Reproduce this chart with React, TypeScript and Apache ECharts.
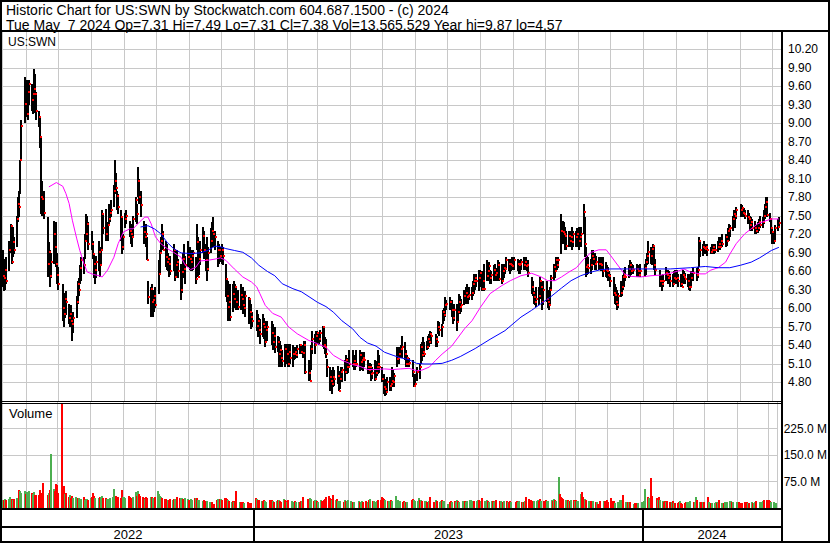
import React, { useEffect, useRef } from 'react';
import * as echarts from 'echarts';

// ---------- texts ----------
const HEADER_LINE_1 = 'Historic Chart for US:SWN by Stockwatch.com 604.687.1500 - (c) 2024';
const HEADER_LINE_2 = 'Tue May\u00a0\u00a07 2024 Op=7.31 Hi=7.49 Lo=7.31 Cl=7.38 Vol=13,565,529 Year hi=9.87 lo=4.57';
const SYMBOL_LABEL = 'US:SWN';
const VOLUME_LABEL = 'Volume';
const YEAR_LABELS = ['2022', '2023', '2024'];

// ---------- calendar ----------
const FIRST_DAY = '2022-05-10';
const LAST_DAY = '2024-05-07';
const AXIS_START = '2022-05-09';
const AXIS_END = '2024-05-09';
const HOLIDAYS = [
  '2022-05-30', '2022-06-20', '2022-07-04', '2022-09-05', '2022-11-24', '2022-12-26',
  '2023-01-02', '2023-01-16', '2023-02-20', '2023-04-07', '2023-05-29', '2023-06-19',
  '2023-07-04', '2023-09-04', '2023-11-23', '2023-12-25',
  '2024-01-01', '2024-01-15', '2024-02-19', '2024-03-29',
];

// ---------- price axis / volume axis ticks ----------
const PRICE_MIN = 4.5;
const PRICE_MAX = 10.48;
const PRICE_STEP = 0.3;
const PRICE_FIRST_LABEL = 4.8;
const VOLUME_MAX = 300; // millions
const VOLUME_STEP = 75;

// ---------- daily data (one value per trading day) ----------
const high = [
  // 2022 May
  6.94,6.80,6.75,6.83,7.10,7.37,7.30,7.32,7.16,7.50,7.80,7.91,8.40,9.05,9.75,
  // Jun
  9.70,9.55,9.70,9.64,9.60,9.88,9.80,9.50,9.20,9.10,8.78,8.07,7.90,7.48,7.07,6.94,6.90,7.42,7.30,7.40,6.90,
  // Jul
  6.67,6.40,6.18,6.25,6.29,6.07,6.00,6.05,5.80,5.95,6.20,6.45,6.50,6.70,6.83,6.83,7.20,7.53,7.50,7.40,
  // Aug
  7.26,7.10,6.89,6.80,6.85,7.10,7.00,7.00,7.59,7.55,7.61,7.40,7.70,7.60,7.75,8.00,8.40,8.20,7.91,7.85,7.59,7.50,7.20,
  // Sep
  7.55,7.59,7.42,7.30,7.37,7.50,7.80,7.70,8.29,8.10,7.91,7.42,7.35,7.37,7.16,6.45,6.34,6.40,6.29,6.30,6.35,
  // Oct
  6.78,6.95,7.16,7.37,7.25,7.10,7.05,6.90,6.83,6.85,7.05,6.95,6.80,6.94,6.80,6.72,6.65,6.90,7.05,6.85,7.10,
  // Nov
  6.99,6.95,6.90,6.95,6.83,7.37,7.16,6.90,7.10,7.32,7.25,7.05,7.16,7.00,7.30,7.40,7.48,7.26,7.10,7.05,7.00,
  // Dec
  7.05,7.00,6.72,6.50,6.45,6.20,6.40,6.40,6.45,6.40,6.35,6.30,6.40,6.30,6.35,6.20,6.29,6.18,6.15,6.07,5.95,
  // 2023 Jan
  5.97,5.91,5.85,5.83,5.91,5.85,5.80,5.75,5.80,5.80,5.75,5.65,5.70,5.55,5.53,5.48,5.40,5.32,5.42,5.42,
  // Feb
  5.42,5.35,5.42,5.40,5.37,5.35,5.37,5.40,5.42,5.42,5.40,5.48,5.48,5.16,5.10,5.40,5.64,5.59,5.64,
  // Mar
  5.64,5.60,5.65,5.72,5.70,5.53,5.50,5.18,5.05,5.00,4.94,5.05,5.00,5.07,4.99,4.95,5.05,5.05,5.16,5.24,5.20,5.13,5.32,
  // Apr
  5.32,5.25,5.20,5.32,5.32,5.30,5.29,5.25,5.29,5.16,5.10,5.12,5.10,5.05,5.16,5.10,5.15,5.32,5.25,
  // May
  5.05,4.94,4.85,4.80,4.89,4.89,4.85,5.05,5.00,4.95,5.37,5.30,5.37,5.40,5.56,5.45,5.32,5.25,5.21,5.20,5.16,4.94,
  // Jun
  4.94,5.05,5.10,5.42,5.45,5.53,5.45,5.48,5.55,5.59,5.64,5.62,5.59,5.55,5.80,5.78,5.75,5.97,6.00,6.18,6.13,
  // Jul
  6.18,6.13,6.00,6.07,6.07,6.00,6.24,6.20,6.15,6.30,6.35,6.40,6.30,6.35,6.35,6.45,6.56,6.55,6.56,6.62,
  // Aug
  6.62,6.60,6.55,6.72,6.78,6.70,6.75,6.62,6.60,6.70,6.72,6.65,6.78,6.75,6.72,6.65,6.72,6.67,6.83,6.80,6.78,6.80,6.83,
  // Sep
  6.83,6.80,6.78,6.75,6.80,6.83,6.80,6.83,6.78,6.78,6.51,6.45,6.29,6.25,6.35,6.35,6.51,6.45,6.40,6.45,
  // Oct
  6.45,6.30,6.20,6.35,6.55,6.72,6.70,6.83,6.80,6.83,7.53,7.42,7.40,7.32,7.25,7.26,7.20,7.26,7.32,7.25,7.26,7.30,
  // Nov
  7.32,7.30,7.32,7.70,7.48,6.99,6.85,6.83,6.80,6.94,6.94,6.90,6.85,6.83,6.80,6.83,6.83,6.75,6.70,6.67,6.60,
  // Dec
  6.56,6.51,6.40,6.35,6.30,6.25,6.45,6.40,6.55,6.62,6.67,6.70,6.78,6.75,6.72,6.70,6.72,6.70,6.65,6.72,
  // 2024 Jan
  6.72,6.80,6.90,7.10,7.00,6.99,7.05,6.99,6.80,6.62,6.55,6.51,6.56,6.67,6.62,6.62,6.60,6.56,6.56,6.60,6.62,
  // Feb
  6.62,6.56,6.56,6.55,6.62,6.60,6.58,6.56,6.55,6.56,6.60,6.67,6.65,6.67,7.16,7.10,7.05,7.10,7.05,7.05,
  // Mar
  7.05,7.00,7.05,7.05,7.02,7.05,7.10,7.16,7.12,7.15,7.21,7.20,7.21,7.30,7.37,7.35,7.50,7.59,7.55,7.65,
  // Apr
  7.70,7.68,7.64,7.62,7.60,7.59,7.55,7.50,7.48,7.45,7.42,7.35,7.40,7.45,7.50,7.48,7.59,7.70,7.80,7.80,7.55,7.45,
  // May
  7.32,7.26,7.35,7.45,7.49,
];

const low = [
  6.35,6.29,6.30,6.40,6.60,6.90,6.72,6.83,6.89,7.00,7.40,7.48,7.86,8.40,9.00,
  9.10,9.05,9.30,9.20,9.15,9.30,9.16,9.05,8.94,8.60,7.53,7.50,7.45,6.51,6.51,6.35,6.50,6.72,6.90,6.67,6.40,
  6.30,5.80,5.70,5.85,5.90,5.75,5.70,5.72,5.48,5.60,5.85,6.07,6.20,6.40,6.45,6.56,6.80,7.16,7.10,6.95,
  6.94,6.80,6.50,6.40,6.50,6.60,6.51,6.70,6.94,7.20,7.10,7.10,7.37,7.40,7.48,7.64,7.90,7.85,7.60,7.53,7.10,6.89,6.95,
  7.30,7.37,7.16,7.05,6.99,7.15,7.40,7.37,7.80,7.70,7.48,7.05,7.05,6.99,6.78,6.07,5.86,6.00,5.86,5.95,6.00,
  6.24,6.55,6.89,7.00,6.94,6.67,6.62,6.60,6.51,6.55,6.60,6.45,6.50,6.56,6.50,6.13,6.25,6.50,6.60,6.40,6.67,
  6.62,6.60,6.60,6.62,6.40,6.94,6.51,6.55,6.70,6.90,6.80,6.60,6.45,6.60,6.90,7.00,6.99,6.94,6.67,6.72,6.75,
  6.72,6.70,6.18,6.10,5.80,5.85,5.80,5.95,6.00,6.05,5.97,5.97,5.97,6.00,5.91,5.91,5.86,5.75,5.80,5.67,5.70,
  5.64,5.53,5.55,5.43,5.53,5.50,5.37,5.45,5.48,5.40,5.32,5.35,5.27,5.30,5.05,5.10,5.05,5.05,5.05,5.10,
  5.05,5.05,5.10,5.05,5.16,5.18,5.20,5.20,5.26,5.26,5.20,5.20,4.94,4.83,4.82,5.00,5.26,5.26,5.43,
  5.43,5.40,5.45,5.37,5.35,5.26,5.20,4.89,4.67,4.70,4.62,4.72,4.75,4.78,4.67,4.70,4.83,4.80,4.83,4.94,4.94,4.95,5.05,
  5.05,5.00,5.00,5.05,4.99,5.05,5.00,4.99,5.05,4.94,4.94,4.95,4.83,4.85,4.83,4.85,4.90,4.94,4.95,
  4.80,4.62,4.58,4.60,4.67,4.67,4.67,4.72,4.75,4.72,5.05,5.10,5.10,5.20,5.20,5.16,5.05,5.05,5.05,5.05,4.89,4.72,
  4.72,4.83,4.85,5.10,5.15,5.21,5.21,5.32,5.35,5.37,5.43,5.43,5.37,5.37,5.59,5.55,5.53,5.75,5.80,5.86,5.97,
  5.97,5.86,5.75,5.80,5.64,5.80,5.95,5.91,5.95,6.05,6.07,6.10,6.07,6.13,6.13,6.20,6.24,6.30,6.35,6.29,
  6.35,6.29,6.30,6.29,6.45,6.45,6.50,6.40,6.40,6.45,6.45,6.45,6.45,6.45,6.40,6.45,6.50,6.56,6.62,6.60,6.56,6.60,6.62,
  6.62,6.60,6.56,6.56,6.62,6.62,6.65,6.62,6.60,6.51,6.24,6.20,6.07,6.05,6.02,6.05,6.18,6.15,5.97,6.05,
  6.10,6.00,5.97,6.05,6.30,6.45,6.50,6.62,6.62,6.65,6.89,7.05,7.10,6.94,6.94,6.99,7.00,7.05,6.94,7.00,7.00,7.00,
  6.94,7.00,7.00,7.20,6.83,6.51,6.55,6.56,6.56,6.62,6.70,6.62,6.62,6.62,6.65,6.60,6.51,6.51,6.50,6.45,6.45,
  6.35,6.20,6.07,6.05,5.97,6.00,6.18,6.20,6.30,6.35,6.45,6.50,6.51,6.55,6.56,6.56,6.51,6.51,6.51,6.51,
  6.51,6.55,6.70,6.72,6.72,6.70,6.78,6.62,6.55,6.35,6.35,6.29,6.35,6.45,6.45,6.40,6.40,6.35,6.35,6.40,6.40,
  6.40,6.35,6.35,6.35,6.40,6.40,6.40,6.35,6.30,6.29,6.35,6.45,6.45,6.50,6.67,6.83,6.85,6.90,6.89,6.89,
  6.85,6.89,6.89,6.90,6.89,6.90,6.91,6.95,6.95,6.99,6.99,7.00,7.02,7.10,7.10,7.15,7.26,7.35,7.30,7.45,
  7.48,7.50,7.48,7.48,7.45,7.37,7.40,7.26,7.30,7.26,7.21,7.21,7.22,7.25,7.30,7.30,7.37,7.45,7.64,7.48,7.40,7.20,
  7.05,7.05,7.10,7.25,7.31,
];

const close = [
  6.53,6.50,6.62,6.45,6.95,7.34,6.75,7.07,6.94,7.45,7.70,7.65,8.40,8.95,9.32,
  9.15,9.50,9.64,9.37,9.48,9.55,9.48,9.20,9.10,8.78,7.80,7.78,7.55,6.72,6.91,6.53,6.75,7.21,7.00,6.72,6.55,
  6.40,6.00,5.91,6.15,6.10,5.85,5.91,5.80,5.75,5.85,6.10,6.40,6.30,6.65,6.78,6.70,7.10,7.21,7.37,7.05,
  7.05,6.89,6.72,6.62,6.75,6.91,6.70,6.94,7.53,7.30,7.20,7.35,7.45,7.55,7.60,7.90,8.07,7.95,7.83,7.64,7.48,7.00,7.15,
  7.45,7.50,7.25,7.20,7.16,7.45,7.75,7.53,8.07,7.80,7.67,7.24,7.15,7.21,6.78,6.18,6.32,6.10,6.13,6.20,6.05,
  6.56,6.90,7.10,7.20,6.94,6.83,6.75,6.80,6.72,6.60,6.95,6.51,6.70,6.75,6.60,6.30,6.59,6.80,6.64,6.70,6.83,
  6.80,6.75,6.85,6.90,6.48,7.07,6.51,6.80,6.94,7.18,6.94,6.78,6.64,6.90,7.10,7.25,7.21,7.16,6.94,6.94,6.85,
  6.94,6.85,6.48,6.20,6.02,6.10,5.86,6.24,6.16,6.35,6.10,6.02,6.21,6.15,6.05,6.00,6.20,6.16,5.95,5.86,5.80,
  5.72,5.80,5.65,5.59,5.75,5.70,5.45,5.65,5.70,5.60,5.45,5.55,5.37,5.45,5.26,5.32,5.20,5.15,5.35,5.26,
  5.10,5.30,5.20,5.26,5.26,5.30,5.25,5.35,5.40,5.30,5.28,5.40,4.97,4.95,4.83,5.35,5.51,5.40,5.55,
  5.60,5.50,5.60,5.70,5.40,5.37,5.26,5.05,4.89,4.83,4.78,4.89,4.85,4.91,4.67,4.85,4.97,5.00,4.97,5.16,5.05,5.05,5.10,
  5.10,5.15,5.10,5.10,5.24,5.13,5.16,5.20,5.16,5.05,5.00,5.05,4.94,4.95,4.86,4.95,5.05,5.10,5.05,
  4.85,4.72,4.70,4.65,4.80,4.75,4.78,4.83,4.80,4.90,5.18,5.20,5.26,5.35,5.37,5.26,5.10,5.20,5.10,5.12,4.97,4.75,
  4.78,4.97,5.05,5.37,5.25,5.30,5.26,5.37,5.50,5.45,5.59,5.55,5.50,5.45,5.70,5.65,5.70,5.94,5.90,6.05,6.08,
  6.10,5.97,5.85,5.97,5.78,5.95,6.10,6.02,6.05,6.20,6.25,6.18,6.20,6.22,6.25,6.40,6.45,6.50,6.45,6.50,
  6.58,6.32,6.45,6.32,6.53,6.60,6.68,6.50,6.55,6.62,6.55,6.58,6.70,6.48,6.45,6.60,6.65,6.64,6.78,6.72,6.72,6.70,6.68,
  6.78,6.72,6.70,6.72,6.75,6.70,6.76,6.68,6.70,6.58,6.35,6.25,6.18,6.10,6.15,6.20,6.45,6.35,6.10,6.30,
  6.15,6.10,6.05,6.30,6.50,6.67,6.60,6.78,6.70,6.78,7.26,7.24,7.20,7.18,7.02,7.18,7.10,7.15,7.07,7.20,7.15,7.20,
  7.10,7.15,7.20,7.56,7.05,6.67,6.70,6.65,6.70,6.85,6.80,6.72,6.75,6.72,6.72,6.70,6.60,6.62,6.60,6.55,6.52,
  6.45,6.25,6.21,6.10,6.05,6.20,6.25,6.35,6.51,6.55,6.51,6.64,6.70,6.60,6.64,6.62,6.64,6.60,6.55,6.60,
  6.65,6.75,6.85,6.91,6.85,6.96,7.02,6.70,6.62,6.45,6.45,6.40,6.45,6.58,6.55,6.50,6.52,6.45,6.40,6.50,6.48,
  6.50,6.45,6.40,6.35,6.55,6.51,6.48,6.45,6.35,6.35,6.50,6.58,6.55,6.62,7.10,6.95,7.00,6.98,6.96,7.00,
  6.95,6.92,6.95,7.00,6.94,6.95,7.00,7.05,7.00,7.10,7.05,7.15,7.10,7.25,7.29,7.30,7.45,7.53,7.50,7.59,
  7.59,7.62,7.55,7.53,7.50,7.48,7.45,7.35,7.40,7.30,7.30,7.26,7.30,7.40,7.35,7.40,7.50,7.65,7.72,7.51,7.45,7.30,
  7.24,7.10,7.30,7.32,7.38,
];

// volume in millions of shares
const volume = [
  24,22,26,23,25,30,26,24,25,27,28,50,48,43,48,
  40,45,48,42,40,44,38,37,36,50,42,30,72,37,42,50,154,54,48,68,66,
  42,293,62,40,43,30,36,28,34,27,30,25,28,29,26,32,22,25,26,24,
  28,30,43,35,27,29,32,30,35,28,27,25,24,26,27,30,54,35,30,32,28,50,30,
  30,28,34,30,29,31,44,33,48,40,35,30,27,25,30,28,30,32,29,28,30,
  48,40,35,30,28,25,26,24,22,25,24,26,25,24,30,29,27,28,26,27,25,
  24,23,25,24,28,29,27,24,22,21,23,20,18,19,18,17,16,12,22,26,25,
  25,22,28,27,26,22,20,18,19,18,20,48,18,17,15,16,14,16,15,12,13,
  28,25,22,24,20,19,22,20,17,24,22,20,18,19,22,24,20,18,26,22,
  20,18,22,19,17,18,20,16,18,17,19,21,30,26,22,28,25,20,22,
  24,20,18,22,20,23,25,30,34,28,26,24,38,22,25,21,20,19,18,22,20,19,24,
  20,18,17,16,19,18,17,20,18,19,17,16,22,25,20,19,18,21,24,
  22,30,28,26,24,20,19,21,22,20,35,24,22,20,21,18,19,17,18,16,24,26,
  22,20,19,28,24,22,20,19,21,18,20,30,18,17,22,19,18,21,22,20,19,
  12,18,20,17,19,18,22,20,18,19,21,20,18,19,22,24,20,21,19,20,
  22,24,20,28,19,20,22,21,18,19,20,18,21,22,19,20,18,17,21,19,18,17,20,
  18,17,19,18,20,17,16,18,19,30,25,22,24,21,20,19,22,20,26,21,
  20,19,22,20,21,24,20,26,22,21,89,40,30,28,26,24,22,21,20,23,22,21,
  22,20,21,40,45,30,25,22,20,19,21,18,19,17,16,12,20,19,21,20,22,
  17,27,20,20,21,15,18,23,22,24,37,17,18,17,16,17,12,15,14,13,
  17,18,20,53,31,27,20,85,34,27,23,31,23,20,18,19,17,20,18,17,19,
  15,15,15,17,20,14,12,15,17,16,18,20,17,18,31,22,17,16,15,18,
  16,31,18,15,14,15,13,16,14,17,22,15,14,16,18,17,20,19,16,17,
  18,17,16,15,14,16,15,17,14,13,16,15,14,17,19,16,15,18,20,22,24,19,
  23,20,18,16,13.57,
];

// moving averages (magenta = short, blue = long)
const maShortDates = [
  '2022-06-22','2022-06-24','2022-06-29','2022-07-05','2022-07-08','2022-07-11','2022-07-14','2022-07-18','2022-07-21','2022-07-25',
  '2022-07-28','2022-08-03','2022-08-08','2022-08-11','2022-08-16','2022-08-22','2022-08-26','2022-08-31','2022-09-06','2022-09-09',
  '2022-09-15','2022-09-20','2022-09-23','2022-09-26','2022-09-30','2022-10-05','2022-10-11','2022-10-17','2022-10-24','2022-10-28',
  '2022-11-02','2022-11-07','2022-11-11','2022-11-18','2022-11-25','2022-11-30','2022-12-05','2022-12-13','2022-12-21','2022-12-29',
  '2023-01-03','2023-01-06','2023-01-11','2023-01-18','2023-01-26','2023-02-02','2023-02-10','2023-02-21','2023-03-01','2023-03-09',
  '2023-03-16','2023-03-24','2023-04-03','2023-04-10','2023-04-17','2023-04-25','2023-05-03','2023-05-11','2023-05-18','2023-05-26',
  '2023-06-02','2023-06-07','2023-06-14','2023-06-20','2023-06-26','2023-07-05','2023-07-17','2023-07-24','2023-08-01','2023-08-10',
  '2023-08-21','2023-08-29','2023-09-08','2023-09-18','2023-09-27','2023-10-03','2023-10-10','2023-10-16','2023-10-23','2023-10-30',
  '2023-11-06','2023-11-13','2023-11-20','2023-11-27','2023-12-01','2023-12-07','2023-12-14','2023-12-20','2023-12-29','2024-01-08',
  '2024-01-17','2024-01-26','2024-02-05','2024-02-08','2024-02-14','2024-02-23','2024-02-28','2024-03-04','2024-03-11','2024-03-18',
  '2024-03-22','2024-03-28','2024-04-05','2024-04-11','2024-04-17','2024-04-23','2024-04-30','2024-05-07',
];
const maShortValues = [
  7.97,7.99,8.04,7.98,7.86,7.70,7.43,7.14,6.94,6.72,
  6.59,6.55,6.53,6.51,6.62,6.83,7.05,7.24,7.29,7.29,
  7.40,7.48,7.48,7.37,7.16,7.05,6.97,6.91,6.83,6.70,
  6.63,6.67,6.77,6.78,6.80,6.82,6.78,6.64,6.51,6.43,
  6.35,6.24,6.05,5.92,5.86,5.70,5.59,5.48,5.43,5.37,
  5.24,5.16,5.09,5.06,5.01,5.01,5.02,5.01,5.02,5.03,
  4.99,5.00,5.05,5.16,5.26,5.39,5.67,5.80,6.02,6.24,
  6.37,6.45,6.53,6.57,6.51,6.45,6.45,6.51,6.59,6.66,
  6.80,6.91,6.95,6.95,6.86,6.72,6.56,6.52,6.51,6.53,
  6.54,6.57,6.62,6.64,6.59,6.56,6.56,6.62,6.66,6.75,
  6.88,7.05,7.21,7.29,7.37,7.41,7.45,7.45,
];
const maLongDates = [
  '2022-09-16','2022-09-23','2022-09-29','2022-10-05','2022-10-11','2022-10-17','2022-10-24','2022-11-02','2022-11-11','2022-11-18',
  '2022-11-25','2022-11-30','2022-12-05','2022-12-13','2022-12-21','2022-12-29','2023-01-05','2023-01-13','2023-01-20','2023-01-27',
  '2023-02-06','2023-02-14','2023-02-22','2023-03-01','2023-03-09','2023-03-16','2023-03-24','2023-04-03','2023-04-10','2023-04-17',
  '2023-04-25','2023-05-03','2023-05-11','2023-05-18','2023-05-26','2023-06-02','2023-06-09','2023-06-16','2023-06-26','2023-07-05',
  '2023-07-13','2023-07-27','2023-08-10','2023-08-24','2023-09-08','2023-09-18','2023-09-27','2023-10-06','2023-10-16','2023-10-25',
  '2023-11-03','2023-11-13','2023-11-22','2023-12-01','2023-12-20','2024-01-08','2024-01-26','2024-02-14','2024-02-28','2024-03-11',
  '2024-03-22','2024-04-01','2024-04-11','2024-04-19','2024-04-30','2024-05-07',
];
const maLongValues = [
  7.32,7.34,7.29,7.21,7.07,6.97,6.90,6.89,6.90,6.94,
  7.01,7.00,6.97,6.94,6.91,6.82,6.70,6.60,6.53,6.40,
  6.32,6.27,6.18,6.10,6.03,5.94,5.80,5.67,5.53,5.44,
  5.39,5.29,5.24,5.20,5.17,5.11,5.10,5.10,5.11,5.16,
  5.22,5.35,5.50,5.64,5.86,5.97,6.08,6.19,6.33,6.45,
  6.53,6.59,6.63,6.64,6.64,6.64,6.64,6.66,6.68,6.66,
  6.66,6.70,6.75,6.82,6.94,6.99,
];

// ---------- styling ----------
const FONT = '"Liberation Sans", Arial, Helvetica, sans-serif';
const GRID_COLOR = '#c8c8c8';
const UP_COLOR = '#4caf50';
const DOWN_COLOR = '#ff0000';
const BAR_COLOR = '#000000';
const CLOSE_COLOR = '#ff0000';
const MA_SHORT_COLOR = '#ff00ff';
const MA_LONG_COLOR = '#0000ff';
const DAY = 24 * 3600 * 1000;

function parseDay(s: string): number {
  const [y, m, d] = s.split('-').map(Number);
  return new Date(y, m - 1, d, 12).getTime();
}
function fmtDay(d: Date): string {
  const p = (n: number) => (n < 10 ? '0' + n : '' + n);
  return d.getFullYear() + '-' + p(d.getMonth() + 1) + '-' + p(d.getDate());
}
function tradingDays(): number[] {
  const hol = new Set(HOLIDAYS);
  const out: number[] = [];
  const end = parseDay(LAST_DAY);
  let d = new Date(parseDay(FIRST_DAY));
  while (d.getTime() <= end) {
    const dow = d.getDay();
    if (dow !== 0 && dow !== 6 && !hol.has(fmtDay(d))) out.push(d.getTime());
    d = new Date(d.getFullYear(), d.getMonth(), d.getDate() + 1, 12);
  }
  return out;
}

function buildOption() {
  const days = tradingDays();
  const n = Math.min(days.length, high.length, low.length, close.length, volume.length);
  const ohlc: number[][] = [];
  const vols: number[][] = [];
  for (let i = 0; i < n; i++) {
    ohlc.push([days[i], high[i], low[i], close[i]]);
    const up = i === 0 ? 1 : close[i] >= close[i - 1] ? 1 : 0;
    vols.push([days[i], volume[i], up]);
  }
  const maShort = maShortDates.map((d, i) => [parseDay(d), maShortValues[i]]);
  const maLong = maLongDates.map((d, i) => [parseDay(d), maLongValues[i]]);
  const years = YEAR_LABELS.map((y) => [new Date(+y, 0, 1).getTime(), new Date(+y + 1, 0, 1).getTime()]);

  const axisMin = parseDay(AXIS_START);
  const axisMax = parseDay(AXIS_END);

  const timeAxis = (gridIndex: number, split: boolean) => ({
    type: 'time',
    gridIndex,
    min: axisMin,
    max: axisMax,
    splitNumber: 24,
    minInterval: 28 * DAY,
    maxInterval: 31 * DAY,
    axisLine: { show: false },
    axisTick: { show: false },
    axisLabel: { show: false },
    splitLine: { show: split, lineStyle: { color: GRID_COLOR, width: 1 } },
  });

  const isStep = (v: number, base: number, step: number) =>
    Math.abs((v - base) / step - Math.round((v - base) / step)) < 1e-6;

  const PLOT_LEFT = 2;
  const PLOT_WIDTH = 779;
  const text = (t: string, x: number, y: number, size: number) => ({
    type: 'text',
    x,
    y,
    z: 110,
    style: { text: t, fill: '#000', font: `${size}px ${FONT}`, verticalAlign: 'middle', textVerticalAlign: 'middle', align: 'left' },
  });
  const block = (x: number, y: number, w: number, h: number) => ({
    type: 'rect',
    z: 100,
    shape: { x, y, width: w, height: h },
    style: { fill: '#000' },
  });

  return {
    animation: false,
    backgroundColor: '#fff',
    grid: [
      { left: PLOT_LEFT, top: 32, width: PLOT_WIDTH, height: 369 },
      { left: PLOT_LEFT, top: 402, width: PLOT_WIDTH, height: 106 },
      { left: PLOT_LEFT, top: 510, width: PLOT_WIDTH, height: 31 },
    ],
    xAxis: [timeAxis(0, true), timeAxis(1, true), timeAxis(2, false)],
    yAxis: [
      {
        type: 'value',
        gridIndex: 0,
        position: 'right',
        min: PRICE_MIN,
        max: PRICE_MAX,
        interval: PRICE_STEP,
        axisLine: { show: false },
        axisTick: { show: false },
        axisLabel: {
          margin: 7,
          color: '#000',
          fontSize: 12,
          fontFamily: FONT,
          showMinLabel: false,
          showMaxLabel: false,
          formatter: (v: number) =>
            v >= PRICE_FIRST_LABEL - 1e-6 && isStep(v, PRICE_MIN, PRICE_STEP) ? v.toFixed(2) : '',
        },
        splitLine: { show: true, showMinLine: false, showMaxLine: false, lineStyle: { color: GRID_COLOR, width: 1 } },
      },
      {
        type: 'value',
        gridIndex: 1,
        position: 'right',
        min: 0,
        max: VOLUME_MAX,
        interval: VOLUME_STEP,
        axisLine: { show: false },
        axisTick: { show: false },
        axisLabel: {
          margin: 6,
          color: '#000',
          fontSize: 12,
          fontFamily: FONT,
          showMinLabel: false,
          showMaxLabel: false,
          formatter: (v: number) => (v > 0 && v < VOLUME_MAX ? v.toFixed(1) + ' M' : ''),
        },
        splitLine: { show: true, showMinLine: false, showMaxLine: false, lineStyle: { color: GRID_COLOR, width: 1 } },
      },
      { type: 'value', gridIndex: 2, min: 0, max: 1, show: false },
    ],
    series: [
      {
        type: 'custom',
        name: 'range',
        xAxisIndex: 0,
        yAxisIndex: 0,
        clip: true,
        silent: true,
        z: 2,
        encode: { x: 0, y: [1, 2] },
        data: ohlc,
        renderItem: (_p: any, api: any) => {
          const t = api.value(0);
          const hi = api.coord([t, api.value(1)]);
          const lo = api.coord([t, api.value(2)]);
          const x = Math.round(hi[0]);
          const y0 = Math.round(hi[1]);
          const y1 = Math.round(lo[1]);
          return {
            type: 'rect',
            shape: { x: x - 1, y: y0, width: 2, height: Math.max(1, y1 - y0) },
            style: { fill: BAR_COLOR },
          };
        },
      },
      {
        type: 'custom',
        name: 'close',
        xAxisIndex: 0,
        yAxisIndex: 0,
        clip: true,
        silent: true,
        z: 3,
        encode: { x: 0, y: 3 },
        data: ohlc,
        renderItem: (_p: any, api: any) => {
          const t = api.value(0);
          const c = api.coord([t, api.value(3)]);
          const x = Math.round(c[0]);
          return {
            type: 'rect',
            shape: { x: x, y: Math.round(c[1]) - 1, width: 2, height: 2 },
            style: { fill: CLOSE_COLOR },
          };
        },
      },
      {
        type: 'line',
        name: 'MA short',
        xAxisIndex: 0,
        yAxisIndex: 0,
        data: maShort,
        symbol: 'none',
        showSymbol: false,
        silent: true,
        z: 4,
        lineStyle: { color: MA_SHORT_COLOR, width: 1 },
      },
      {
        type: 'line',
        name: 'MA long',
        xAxisIndex: 0,
        yAxisIndex: 0,
        data: maLong,
        symbol: 'none',
        showSymbol: false,
        silent: true,
        z: 4,
        lineStyle: { color: MA_LONG_COLOR, width: 1 },
      },
      {
        type: 'custom',
        name: 'volume',
        xAxisIndex: 1,
        yAxisIndex: 1,
        clip: true,
        silent: true,
        encode: { x: 0, y: 1 },
        data: vols,
        renderItem: (_p: any, api: any) => {
          const t = api.value(0);
          const p = api.coord([t, api.value(1)]);
          const b = api.coord([t, 0]);
          const x = Math.round(p[0]);
          const top = Math.round(p[1]);
          return {
            type: 'rect',
            shape: { x: x - 1, y: top, width: 2, height: Math.max(1, Math.round(b[1]) - top) },
            style: { fill: api.value(2) ? UP_COLOR : DOWN_COLOR },
          };
        },
      },
      {
        type: 'custom',
        name: 'years',
        xAxisIndex: 2,
        yAxisIndex: 2,
        clip: false,
        silent: true,
        encode: { x: [0, 1] },
        data: years,
        renderItem: (params: any, api: any) => {
          const cs = params.coordSys;
          const s = api.coord([api.value(0), 0])[0];
          const e = api.coord([api.value(1), 0])[0];
          const x0 = Math.max(s, cs.x);
          const x1 = Math.min(e, cs.x + cs.width);
          const children: any[] = [
            {
              type: 'text',
              x: (x0 + x1) / 2,
              y: cs.y + cs.height - 7,
              style: {
                text: YEAR_LABELS[params.dataIndex],
                fill: '#000',
                font: `13px ${FONT}`,
                align: 'center',
                verticalAlign: 'middle',
                textAlign: 'center',
                textVerticalAlign: 'middle',
              },
            },
          ];
          if (s > cs.x + 1 && s < cs.x + cs.width - 1) {
            children.push({
              type: 'rect',
              shape: { x: Math.round(s) - 1, y: cs.y, width: 2, height: cs.height },
              style: { fill: '#000' },
            });
          }
          return { type: 'group', children };
        },
      },
    ],
    graphic: [
      {
        type: 'rect',
        z: 100,
        shape: { x: 1, y: 1, width: 828, height: 541 },
        style: { fill: 'none', stroke: '#000', lineWidth: 2 },
      },
      block(0, 30, 830, 2),
      block(781, 30, 2, 513),
      block(0, 401, 781, 1),
      block(0, 403, 781, 1),
      block(0, 508, 781, 2),
      block(0, 526, 781, 2),
      text(HEADER_LINE_1, 6, 9.8, 14),
      text(HEADER_LINE_2, 6, 24.5, 14),
      text(SYMBOL_LABEL, 8, 41.5, 12),
      text(VOLUME_LABEL, 9, 413.5, 13),
    ],
  };
}

export default function App() {
  const ref = useRef<HTMLDivElement>(null);
  useEffect(() => {
    document.body.style.margin = '0';
    const chart = echarts.init(ref.current as HTMLDivElement, null, { renderer: 'svg' });
    chart.setOption(buildOption() as any);
    return () => chart.dispose();
  }, []);
  return <div ref={ref} style={{ width: 830, height: 543, background: '#fff' }} />;
}
